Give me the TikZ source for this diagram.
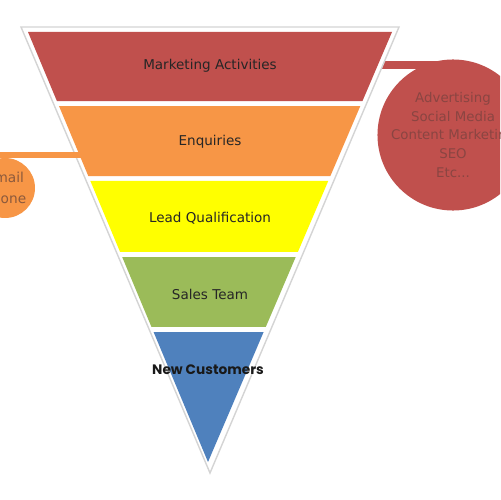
\documentclass[tikz,border=0pt]{standalone}
\usepackage{fontspec}
\setmainfont{DejaVu Sans}
\newfontfamily\geofont{Poppins}
\usetikzlibrary{calc}
\definecolor{bandred}{HTML}{C0504D}
\definecolor{bandorange}{HTML}{F79646}
\definecolor{bandyellow}{HTML}{FFFF00}
\definecolor{bandgreen}{HTML}{9BBB59}
\definecolor{bandblue}{HTML}{4F81BD}
\definecolor{redtext}{HTML}{8A4542}
\definecolor{orangetext}{HTML}{8C5A3C}
\definecolor{rimgray}{HTML}{D4D4D4}

\begin{document}
\begin{tikzpicture}[x=0.02cm, y=-0.02cm,
  bandlabel/.style={font=\fontsize{7.7}{9.2}\selectfont, text=black!85},
  bubble/.style={circle, inner sep=0pt, align=center},
  linkbar/.style={line cap=butt},
]
  \useasboundingbox (0,0) rectangle (500,500);
  \clip (0,0) rectangle (500,500);

  % funnel corners
  \coordinate (A) at (28,32);
  \coordinate (B) at (392,32);
  \coordinate (C) at (208,462);

  % bubble on the right, behind the funnel
  \node[bubble, fill=bandred, minimum size=2.84cm, text=redtext,
        font=\fontsize{7.6}{10.8}\selectfont] (activities) at (453,135)
    {Advertising\\Social Media\\Content Marketing\\SEO\\Etc...};
  \coordinate (rbarend) at (376,65);
  \draw[linkbar, draw=bandred, line width=4.6pt] (rbarend) -- (rbarend -| activities.center);

  % outer white triangle
  \filldraw[fill=white, draw=rimgray, line width=0.8pt] (21,27) -- (399,27) -- (210,473) -- cycle;

  \fill[bandred]    ($(A)!0!(C)$) -- ($(B)!0!(C)$) -- ($(B)!0.1605!(C)$) -- ($(A)!0.1605!(C)$) -- cycle;
  \fill[bandorange] ($(A)!0.1721!(C)$) -- ($(B)!0.1721!(C)$) -- ($(B)!0.3349!(C)$) -- ($(A)!0.3349!(C)$) -- cycle;
  \fill[bandyellow] ($(A)!0.3465!(C)$) -- ($(B)!0.3465!(C)$) -- ($(B)!0.5116!(C)$) -- ($(A)!0.5116!(C)$) -- cycle;
  \fill[bandgreen]  ($(A)!0.5233!(C)$) -- ($(B)!0.5233!(C)$) -- ($(B)!0.6860!(C)$) -- ($(A)!0.6860!(C)$) -- cycle;
  \fill[bandblue]   ($(A)!0.6977!(C)$) -- ($(B)!0.6977!(C)$) -- (C) -- cycle;

  \node[bandlabel] (mkt) at (210,66) {Marketing Activities};
  \node[bandlabel] (enq) at (210,142) {Enquiries};
  \node[bandlabel] (lead) at (210,218) {Lead Qualification};
  \node[bandlabel] (sales) at (210,294) {Sales Team};
  \node[font=\geofont\bfseries\fontsize{7.8}{9}\selectfont, text=black!90] (newcust) at (208,370) {New Customers};

  % bubble on the left
  \node[bubble, fill=bandorange, minimum size=1.2cm, text=orangetext,
        font=\fontsize{7.8}{11.9}\selectfont] (channels) at (5,188) {Email\\Phone};
  \coordinate (lbarend) at (82,155);
  \draw[linkbar, draw=bandorange, line width=3.4pt] (lbarend) -- (lbarend -| channels.west);

\end{tikzpicture}
\end{document}
